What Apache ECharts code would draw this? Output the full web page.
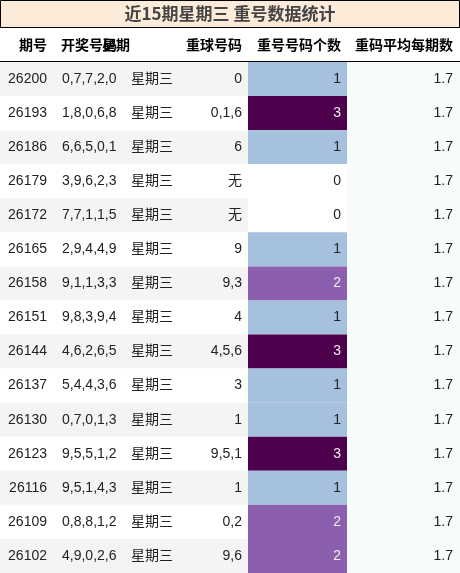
<!DOCTYPE html><html><head><meta charset="utf-8"><script src="https://cdn.jsdelivr.net/npm/echarts@6/dist/echarts.min.js"></script>
<style>html,body{margin:0;padding:0;background:#fff}#c{width:460px;height:573px}</style></head><body><div id="c"></div><script>
const title='近15期星期三 重号数据统计';
const headers=['期号','开奖号码','星期','重球号码','重号号码个数','重码平均每期数'];
const issues=['26200','26193','26186','26179','26172','26165','26158','26151','26144','26137','26130','26123','26116','26109','26102'];
const draws=['0,7,7,2,0','1,8,0,6,8','6,6,5,0,1','3,9,6,2,3','7,7,1,1,5','2,9,4,4,9','9,1,1,3,3','9,8,3,9,4','4,6,2,6,5','5,4,4,3,6','0,7,0,1,3','9,5,5,1,2','9,5,1,4,3','0,8,8,1,2','4,9,0,2,6'];
const weekdays=Array(15).fill('星期三');
const repeats=['0','0,1,6','6','无','无','9','9,3','4','4,5,6','3','1','9,5,1','1','0,2','9,6'];
const repeatCounts=[1,3,1,0,0,1,2,1,3,1,1,3,1,2,2];
const avgs=Array(15).fill('1.7');

const edges=[0,52,122,180,248,347,460];
const align=[['right',47],['left',62],['left',131],['right',242],['right',341],['right',453]];
const heat={0:'#ffffff',1:'#a6c1dd',2:'#8c5fae',3:'#4d004b'};
const cn='"Liberation Sans","Noto Sans CJK SC",sans-serif';
const data=[];
for(let r=0;r<15;r++)for(let c=0;c<6;c++)data.push([c,r]);
const cols=[issues,draws,weekdays,repeats,repeatCounts,avgs];
const chart=echarts.init(document.getElementById('c'));
chart.setOption({animation:false,
grid:{left:0,right:0,top:62,bottom:0},
xAxis:{type:'value',min:0,max:460,show:false},
yAxis:{type:'category',data:issues,inverse:true,show:false},
graphic:[
{type:'rect',shape:{x:0.5,y:0.5,width:459,height:27},style:{fill:'#fdebd9',stroke:'#000',lineWidth:1}},
{type:'text',x:230,y:14,style:{text:title,fill:'#444',font:'bold 17px "Noto Sans CJK SC",sans-serif',align:'center',verticalAlign:'middle'}},
...headers.map((h,i)=>({type:'text',x:align[i][0]==='left'?align[i][1]-1:(i==2?172:align[i][1]),y:45,style:{text:h,fill:'#000',font:'bold 14px "Noto Sans CJK SC",sans-serif',align:i==1?'left':'right',verticalAlign:'middle'}})),
{type:'rect',shape:{x:0,y:61,width:460,height:1.5},style:{fill:'#000'}}
],
series:[{type:'custom',data:data,renderItem:function(params,api){
 const c=api.value(0),r=api.value(1);
 const p0=api.coord([edges[c],r]),p1=api.coord([edges[c+1],r]);
 const h=api.size([0,1])[1];
 const y=p0[1]-h/2;
 let fill=r%2===0?'#f4f4f4':'#ffffff';
 let tc='#222';
 if(c===5)fill='#f6fbfc';
 if(c===4){fill=heat[repeatCounts[r]];if(repeatCounts[r]>=2)tc='#eee';}
 const v=cols[c][r];
 const xa=align[c][0]==='left'?api.coord([align[c][1],r])[0]:api.coord([align[c][1],r])[0];
 return {type:'group',children:[
  {type:'rect',shape:{x:p0[0],y:y,width:p1[0]-p0[0],height:h},style:{fill:fill}},
  {type:'text',x:xa,y:p0[1],style:{text:String(v),fill:tc,font:'14px '+cn,align:align[c][0],verticalAlign:'middle'}}
 ]};
}}]});
</script></body></html>
